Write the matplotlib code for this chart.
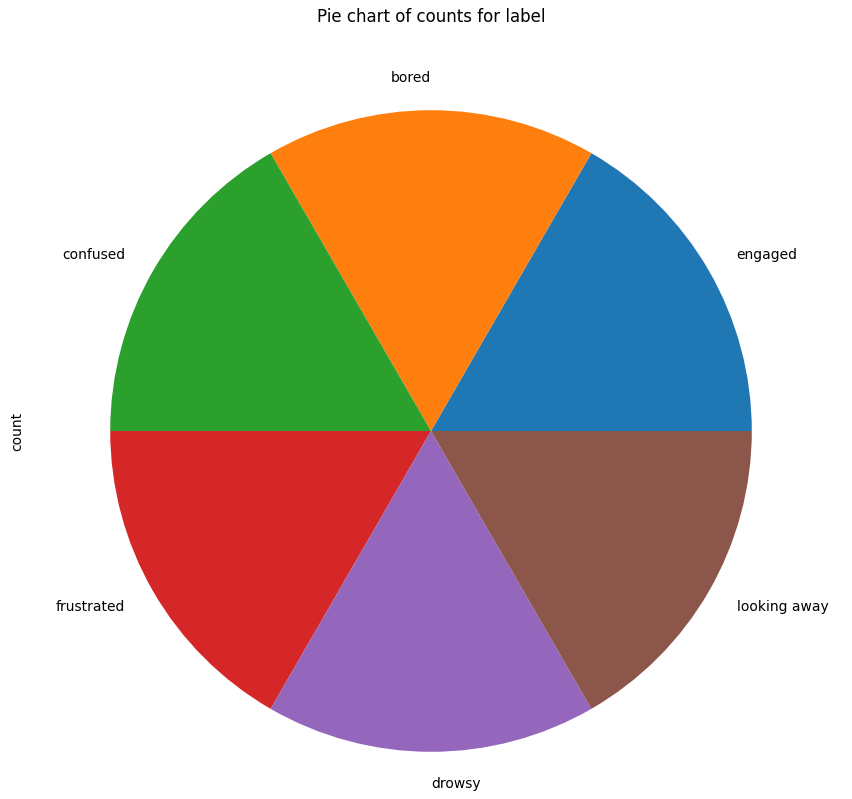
import matplotlib
matplotlib.use("Agg")
import matplotlib.pyplot as plt

# equal counts for every label
labels = ["engaged", "bored", "confused", "frustrated", "drowsy", "looking away"]
counts = [1000, 1000, 1000, 1000, 1000, 1000]

fig = plt.figure(figsize=(8.52, 7.99), dpi=100)
ax = fig.add_axes([30 / 852, (799 - 832) / 799, 802 / 852, 802 / 799])
ax.pie(counts, labels=labels, textprops={"fontsize": 10})
ax.set_title("Pie chart of counts for label", fontsize=12)
ax.set_ylabel("count", fontsize=10)

fig.savefig("out.png", dpi=100)
